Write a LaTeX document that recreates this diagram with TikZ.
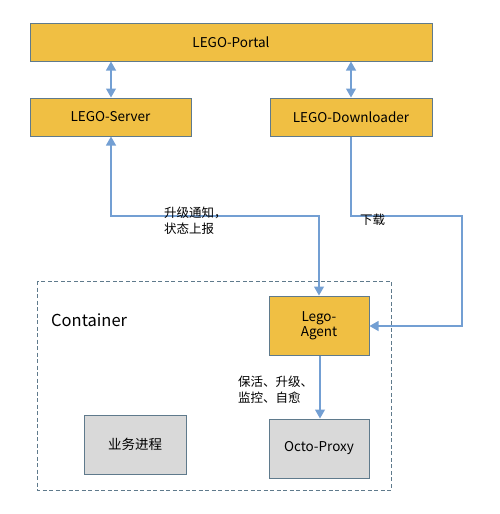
\documentclass[tikz,border=0pt]{standalone}
\usepackage{fontspec}
\setmainfont{Noto Sans CJK SC}
\usetikzlibrary{arrows.meta}
\definecolor{boxyellow}{HTML}{F0BF43}
\definecolor{boxgray}{HTML}{D9D9D9}
\definecolor{boxedge}{HTML}{5F7A8C}
\definecolor{arrowblue}{HTML}{739FD3}
\begin{document}
\begin{tikzpicture}[x=1pt,y=-1pt,
  ybox/.style={draw=boxedge,line width=1pt,fill=boxyellow,inner sep=0pt,font=\fontsize{13.5}{15}\selectfont},
  gbox/.style={draw=boxedge,line width=1pt,fill=boxgray,inner sep=0pt,font=\fontsize{13.5}{15}\selectfont},
  tip/.style={Triangle[width=10pt,length=9pt]},
  conn/.style={draw=arrowblue,line width=1.1pt,-{Triangle[width=10pt,length=9pt]}},
  dconn/.style={draw=arrowblue,line width=1.1pt,{Triangle[width=10pt,length=9pt]}-{Triangle[width=10pt,length=9pt]}},
  lbl/.style={font=\fontsize{12.5}{16}\selectfont,inner sep=0pt,align=left}]
\useasboundingbox (0,0) rectangle (499,514);
% container
\draw[boxedge,line width=1pt,dash pattern=on 4pt off 2.5pt] (37,281) rectangle (391,490);
\node[anchor=west,font=\fontsize{16.5}{19}\selectfont,inner sep=0pt] (cont) at (51,320) {Container};
% boxes
\node[ybox,minimum width=402pt,minimum height=38pt] (portal) at (231,42) {LEGO-Portal};
\node[ybox,minimum width=161pt,minimum height=38pt] (server) at (110.5,117) {LEGO-Server};
\node[ybox,minimum width=162pt,minimum height=38pt] (down) at (351,117) {LEGO-Downloader};
\node[ybox,minimum width=100pt,minimum height=59pt,align=center] (agent) at (319,325.5) {Lego-\\Agent};
\node[gbox,minimum width=100pt,minimum height=59pt] (octo) at (319,448.5) {Octo-Proxy};
\node[gbox,minimum width=102pt,minimum height=59pt] (biz) at (135,444.5) {业务进程};
% connectors
\draw[dconn] (portal.south -| 111,0) -- (server.north -| 111,0);
\draw[dconn] (portal.south -| 351,0) -- (down.north -| 351,0);
\coordinate (c1) at (111,216);
\coordinate (c2) at (319,216);
\draw[dconn] (agent.north) -- (c2) -- (c1) -- (server.south -| c1);
\coordinate (d1) at (351,216);
\coordinate (d2) at (462,216);
\coordinate (d3) at (462,326);
\draw[conn] (down.south -| d1) -- (d1) -- (d2) -- (d3) -- (agent.east |- d3);
\draw[conn] (agent.south -| 320,0) -- (octo.north -| 320,0);
% labels
\node[lbl,anchor=north west] (l1) at (164,207) {升级通知，\\状态上报};
\node[lbl,anchor=north west] (l2) at (360,214) {下载};
\node[lbl,anchor=north west] (l3) at (238,376) {保活、升级、\\监控、自愈};
\end{tikzpicture}
\end{document}
